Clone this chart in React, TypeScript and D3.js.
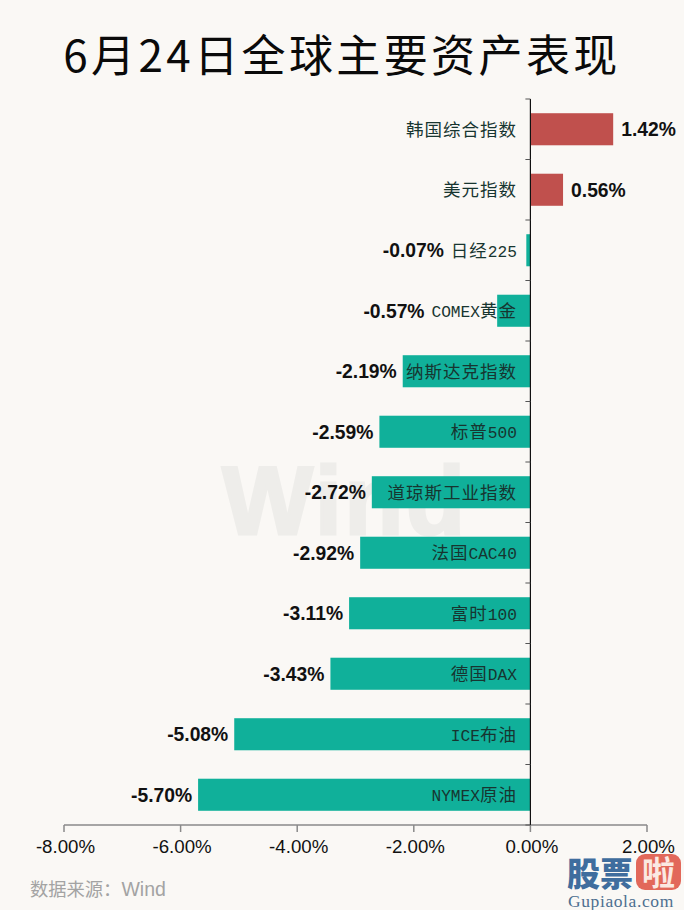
import React from "react";
import * as d3 from "d3";

const title = "6月24日全球主要资产表现";
const categories = ["韩国综合指数", "美元指数", "日经225", "COMEX黄金", "纳斯达克指数", "标普500", "道琼斯工业指数", "法国CAC40", "富时100", "德国DAX", "ICE布油", "NYMEX原油"];
const values = [1.42, 0.56, -0.07, -0.57, -2.19, -2.59, -2.72, -2.92, -3.11, -3.43, -5.08, -5.7];
const xTicks = [-8, -6, -4, -2, 0, 2];
const source = "数据来源：Wind";

const W = 684, H = 910;
const CJK = "'Noto Sans CJK SC', sans-serif";
const SANS = "'Liberation Sans', Arial, sans-serif";

const x = d3.scaleLinear().domain([-8, 2]).range([64, 647]);
const y = d3.scaleBand().domain(categories).range([99, 825]).paddingInner(0.47).paddingOuter(0.235);
const fmt = (v: number) => `${v.toFixed(2)}%`;

const segments = (s: string) => s.match(/[\x00-\x7f]+|[^\x00-\x7f]+/g) || [];
const labelWidth = (s: string) => segments(s).reduce((w, p) => w + (/^[\x00-\x7f]/.test(p) ? p.length * 9.7 : p.length * 18.5), 0);
const labelRight = 517;

export default function App() {
  const step = y.step();
  const boundaries = d3.range(categories.length + 1).map((i) => 99 + i * step);
  return (
    <svg width={W} height={H} viewBox={`0 0 ${W} ${H}`} style={{ position: "absolute", left: 0, top: 0, display: "block" }}>
      <rect width={W} height={H} fill="#faf8f5" />
      <text x={342} y={72} textAnchor="middle" fontFamily={CJK} fontSize={44} letterSpacing={3.4} fill="#0a0a0a">{title}</text>
      <text x={345} y={534} textAnchor="middle" fontFamily={SANS} fontWeight={700} fontSize={96} letterSpacing={3} stroke="#eeedea" strokeWidth={3} fill="#eeedea">Wind</text>

      {categories.map((c, i) => {
        const v = values[i];
        return (
          <rect key={c} x={x(Math.min(0, v))} y={y(c)} width={Math.abs(x(v) - x(0))} height={y.bandwidth()} fill={v >= 0 ? "#c0504d" : "#10b09a"} />
        );
      })}

      <line x1={x(-8)} x2={x(2)} y1={825} y2={825} stroke="#8a8a8a" strokeWidth={1.5} />
      {xTicks.map((t) => (
        <g key={t}>
          <line x1={x(t)} x2={x(t)} y1={825} y2={832} stroke="#8a8a8a" strokeWidth={1.5} />
          <text x={x(t) + 1.5} y={853} textAnchor="middle" fontFamily={SANS} fontSize={18.7} fill="#111">{fmt(t)}</text>
        </g>
      ))}

      <line x1={x(0)} x2={x(0)} y1={99} y2={825} stroke="#111" strokeWidth={1.2} />
      {boundaries.map((b) => (
        <line key={b} x1={x(0) - 5} x2={x(0)} y1={b} y2={b} stroke="#555" strokeWidth={1} />
      ))}

      {categories.map((c, i) => {
        const v = values[i];
        const cy = (y(c) as number) + y.bandwidth() / 2;
        const catLeft = labelRight - labelWidth(c);
        const endX = v >= 0 ? x(v) + 8 : Math.min(x(v) - 6, catLeft - 7);
        return (
          <g key={c}>
            <text x={labelRight} y={cy + 6.5} textAnchor="end" fill="#173530">
              {segments(c).map((p, j) =>
                /^[\x00-\x7f]/.test(p) ? (
                  <tspan key={j} fontFamily="'Liberation Mono', monospace" fontSize={16.2}>{p}</tspan>
                ) : (
                  <tspan key={j} fontFamily={CJK} fontSize={17.5} letterSpacing={1}>{p}</tspan>
                )
              )}
            </text>
            <text x={endX} y={cy + 7} textAnchor={v >= 0 ? "start" : "end"} fontFamily={SANS} fontWeight={700} fontSize={19.3} fill="#111">{fmt(v)}</text>
          </g>
        );
      })}

      <text x={30} y={896} fontFamily={CJK} fontSize={18.3} fill="#a3a3a3">
        {segments(source).map((p, j) =>
          /^[\x00-\x7f]/.test(p) ? (
            <tspan key={j} fontFamily={SANS} fontSize={19.5}>{p}</tspan>
          ) : (
            <tspan key={j}>{p}</tspan>
          )
        )}
      </text>

      <rect x={566} y={854} width={118} height={56} fill="#faf8f5" />
      <text x={567} y={886} fontFamily={CJK} fontWeight={900} fontSize={33} fill="#3f6d9e">股票</text>
      <rect x={636} y={854} width={45} height={36} rx={9} fill="#e2685a" />
      <text x={658.5} y={885} textAnchor="middle" fontFamily={CJK} fontWeight={700} fontSize={33} fill="#fbe9e2">啦</text>
      <text x={568} y={907} fontFamily="'Liberation Serif', serif" fontSize={17.5} letterSpacing={0.6} fill="#4e6f90">Gupiaola.com</text>
    </svg>
  );
}
